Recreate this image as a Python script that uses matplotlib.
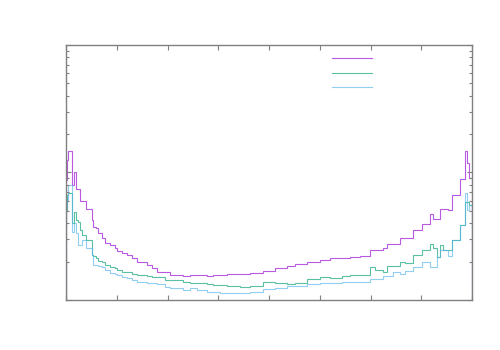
import matplotlib
matplotlib.use('Agg')
import matplotlib.pyplot as plt
from matplotlib.ticker import LogLocator, MultipleLocator, NullFormatter
from matplotlib.lines import Line2D

# bin edges (cos theta, -1 .. 1)
edges = [-1.000, -0.995, -0.989, -0.972, -0.961, -0.951, -0.939, -0.931, -0.921, -0.901,
         -0.892, -0.873, -0.866, -0.852, -0.841, -0.824, -0.808, -0.783, -0.759, -0.749,
         -0.724, -0.700, -0.675, -0.650, -0.601, -0.576, -0.552, -0.512, -0.488, -0.424,
         -0.389, -0.355, -0.305, -0.276, -0.241, -0.207, -0.143, -0.094, -0.030, 0.030,
         0.089, 0.128, 0.187, 0.251, 0.300, 0.325, 0.360, 0.399, 0.448, 0.498,
         0.522, 0.562, 0.581, 0.611, 0.645, 0.670, 0.709, 0.754, 0.793, 0.808,
         0.828, 0.842, 0.857, 0.882, 0.901, 0.941, 0.966, 0.975, 0.985, 1.000]

purple = [0.873, 1.253, 1.474, 0.798, 1.009, 0.742, 0.740, 0.598, 0.600, 0.517,
          0.514, 0.424, 0.374, 0.370, 0.335, 0.306, 0.280, 0.270, 0.256, 0.242,
          0.235, 0.225, 0.2135, 0.200, 0.188, 0.178, 0.167, 0.166, 0.157, 0.155,
          0.156, 0.157, 0.153, 0.158, 0.157, 0.160, 0.159, 0.164, 0.169, 0.179,
          0.185, 0.192, 0.198, 0.206, 0.215, 0.212, 0.213, 0.219, 0.221, 0.247,
          0.246, 0.255, 0.275, 0.274, 0.305, 0.308, 0.354, 0.392, 0.473, 0.429,
          0.430, 0.514, 0.515, 0.512, 0.666, 0.884, 1.466, 1.187, 0.905]

green = [0.508, 0.666, 0.691, 0.400, 0.490, 0.424, 0.409, 0.354, 0.323, 0.296,
         0.296, 0.225, 0.221, 0.2135, 0.202, 0.199, 0.188, 0.1825, 0.178, 0.172,
         0.1667, 0.166, 0.160, 0.157, 0.154, 0.152, 0.1515, 0.1435, 0.144, 0.139,
         0.137, 0.135, 0.1335, 0.131, 0.131, 0.129, 0.127, 0.1295, 0.139, 0.1367,
         0.1335, 0.137, 0.1453, 0.1523, 0.1496, 0.150, 0.155, 0.157, 0.157, 0.1805,
         0.172, 0.1667, 0.186, 0.186, 0.198, 0.196, 0.225, 0.247, 0.275, 0.255,
         0.219, 0.270, 0.247, 0.247, 0.296, 0.388, 0.590, 0.590, 0.556]

blue = [0.527, 0.608, 0.798, 0.341, 0.402, 0.335, 0.270, 0.270, 0.296, 0.256,
        0.256, 0.225, 0.188, 0.188, 0.185, 0.1815, 0.172, 0.163, 0.160, 0.157,
        0.1523, 0.1488, 0.1435, 0.139, 0.136, 0.1352, 0.1335, 0.1271, 0.1235, 0.120,
        0.1235, 0.120, 0.1162, 0.1162, 0.1129, 0.1141, 0.1141, 0.1162, 0.122, 0.1235,
        0.1295, 0.1295, 0.1335, 0.1352, 0.1367, 0.1367, 0.139, 0.139, 0.139, 0.1453,
        0.1453, 0.1543, 0.1543, 0.1667, 0.160, 0.170, 0.1825, 0.200, 0.1825, 0.1825,
        0.219, 0.247, 0.247, 0.221, 0.296, 0.388, 0.687, 0.508, 0.556]

colors = ['#9400d3', '#009e73', '#56b4e9']

fig = plt.figure(figsize=(5, 3.5), dpi=100)
ax = fig.add_axes([0.132, 0.1429, 0.812, 0.7286])

for vals, c in zip([purple, green, blue], colors):
    ax.stairs(vals, edges, color=c, lw=0.8, alpha=0.65)

ax.set_xlim(-1, 1)
ax.set_yscale('log')
ax.set_ylim(0.1, 10)

ax.xaxis.set_major_locator(MultipleLocator(0.25))
ax.yaxis.set_major_locator(LogLocator(base=10))
ax.yaxis.set_minor_locator(LogLocator(base=10, subs=range(2, 10)))
ax.xaxis.set_major_formatter(NullFormatter())
ax.yaxis.set_major_formatter(NullFormatter())
ax.yaxis.set_minor_formatter(NullFormatter())
ax.tick_params(which='both', direction='in', top=True, right=True, color='#808080')
ax.tick_params(which='major', length=3.5, width=0.8)
ax.tick_params(which='minor', length=2.5, width=0.8)
for s in ax.spines.values():
    s.set_color('#808080')
    s.set_linewidth(1.0)

handles = [Line2D([], [], color=c, lw=0.8, alpha=0.65) for c in colors]
ax.legend(handles, [' ', ' ', ' '], loc='upper left', bbox_to_anchor=(0.633, 0.998),
          frameon=False, fontsize=8, handlelength=3.6, labelspacing=0.4,
          handletextpad=0.4, borderpad=0.3)

fig.savefig('out.png', dpi=100)
